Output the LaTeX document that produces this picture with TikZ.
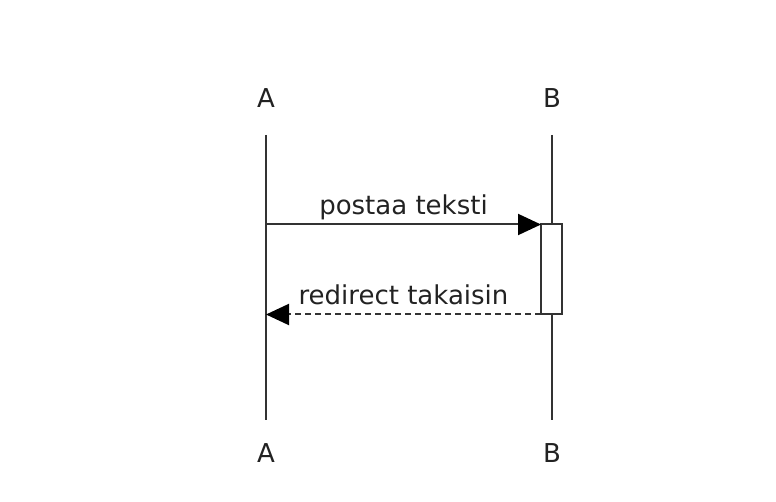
\documentclass[tikz,border=0pt]{standalone}
\usepackage{fontspec}
\setmainfont{DejaVu Sans}
\usetikzlibrary{arrows.meta}
\definecolor{ln}{HTML}{333333}
\definecolor{tx}{HTML}{222222}
\begin{document}
\begin{tikzpicture}[x=1pt,y=1pt,
  lbl/.style={text=tx,font=\fontsize{26}{31}\selectfont,inner sep=0pt},
  life/.style={draw=ln,line width=2pt},
  act/.style={draw=ln,fill=white,line width=2pt,minimum width=21pt,minimum height=90pt,inner sep=0pt,outer sep=0pt},
  msg/.style={draw=ln,line width=2pt,-{Triangle[length=23pt,width=21pt,color=black]}},
  ret/.style={msg,dash pattern=on 6pt off 4pt},
  mlbl/.style={lbl,midway,anchor=base,yshift=10pt}]
\useasboundingbox (0,0) rectangle (776,-502);
\node[lbl] (At) at (266,-98) {A};
\node[lbl] (Bt) at (552,-98) {B};
\node[lbl] (Ab) at (266,-453) {A};
\node[lbl] (Bb) at (552,-453) {B};
\coordinate (A1) at (266,-135);
\coordinate (A2) at (266,-420);
\coordinate (B1) at (552,-135);
\coordinate (B2) at (552,-420);
\draw[life] (A1) -- (A2);
\draw[life] (B1) -- (B2);
\node[act] (act) at (551.5,-269.5) {};
\coordinate (Am) at (266,-224.5);
\coordinate (Ar) at (266,-314.5);
\draw[msg] (Am) -- (act.north west) node[mlbl] (m1) {postaa teksti};
\draw[ret] (act.south west) -- (Ar) node[mlbl] (m2) {redirect takaisin};
\end{tikzpicture}
\end{document}
